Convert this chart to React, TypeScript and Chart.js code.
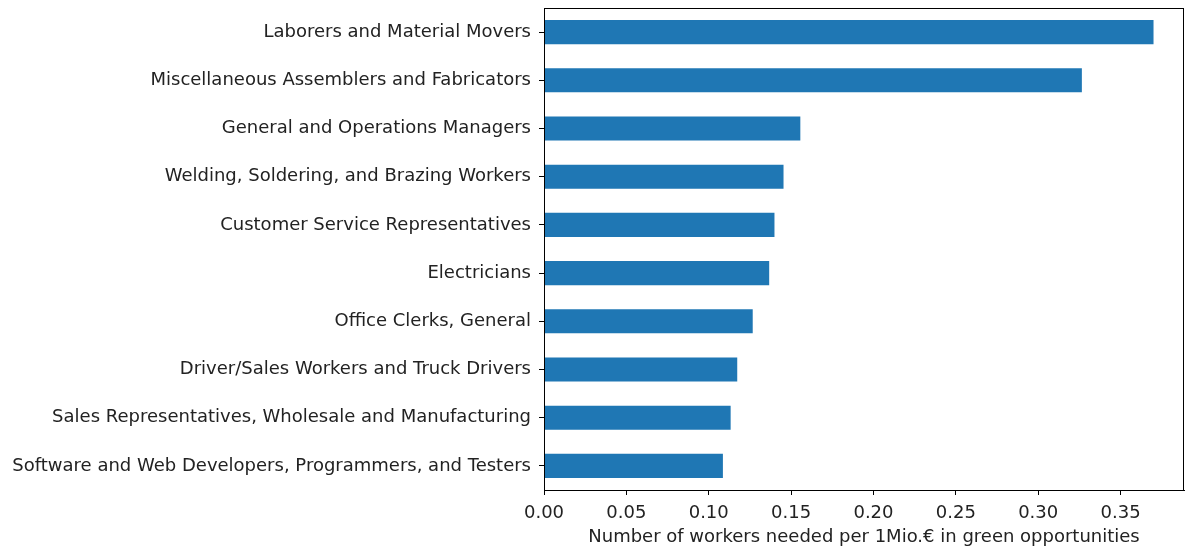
import React, { useEffect, useRef } from "react";
import { Chart, registerables } from "chart.js";

Chart.register(...registerables);

const categories = [
  "Laborers and Material Movers",
  "Miscellaneous Assemblers and Fabricators",
  "General and Operations Managers",
  "Welding, Soldering, and Brazing Workers",
  "Customer Service Representatives",
  "Electricians",
  "Office Clerks, General",
  "Driver/Sales Workers and Truck Drivers",
  "Sales Representatives, Wholesale and Manufacturing",
  "Software and Web Developers, Programmers, and Testers",
];

const workersNeeded = [0.37, 0.3265, 0.1556, 0.1454, 0.1399, 0.1367, 0.1267, 0.1173, 0.1133, 0.1086];

const xTicks = [0, 0.05, 0.1, 0.15, 0.2, 0.25, 0.3, 0.35];
const xTitle = "Number of workers needed per 1Mio.€ in green opportunities";

const FONT = "'DejaVu Sans', sans-serif";
const FS = 18;
const TEXT = "#222";

const framePlugin = {
  id: "frame",
  afterDraw(chart: any) {
    const { ctx, chartArea } = chart;
    ctx.save();
    ctx.strokeStyle = "#000";
    ctx.lineWidth = 1;
    ctx.strokeRect(
      Math.round(chartArea.left) + 0.5,
      Math.round(chartArea.top) + 0.5,
      Math.round(chartArea.right - chartArea.left) - 1,
      Math.round(chartArea.bottom - chartArea.top)
    );
    ctx.restore();
  },
};

export default function App() {
  const ref = useRef<HTMLCanvasElement | null>(null);
  useEffect(() => {
    if (!ref.current) return;
    const chart = new Chart(ref.current, {
      type: "bar",
      data: {
        labels: categories,
        datasets: [
          {
            data: workersNeeded,
            backgroundColor: "#1f77b4",
            borderWidth: 0,
            categoryPercentage: 1,
            barPercentage: 0.5,
          },
        ],
      },
      options: {
        indexAxis: "y",
        animation: false,
        responsive: false,
        maintainAspectRatio: false,
        layout: { padding: { left: 0, right: 1, top: 8, bottom: 0 } },
        plugins: { legend: { display: false }, tooltip: { enabled: false } },
        scales: {
          x: {
            type: "linear",
            min: 0,
            max: 0.3885,
            afterBuildTicks: (scale: any) => {
              scale.ticks = xTicks.map((v) => ({ value: v }));
            },
            afterFit: (scale: any) => {
              scale.height = 58;
              scale.paddingLeft = 0;
              scale.paddingRight = 0;
            },
            ticks: {
              color: TEXT,
              font: { family: FONT, size: FS },
              padding: 8,
              maxRotation: 0,
              autoSkip: false,
              callback: (v: any) => Number(v).toFixed(2),
            },
            grid: {
              display: true,
              drawOnChartArea: false,
              drawTicks: true,
              tickLength: 5,
              color: "#000",
            },
            border: { display: true, color: "#000", width: 1 },
            title: {
              display: true,
              text: xTitle,
              color: TEXT,
              font: { family: FONT, size: FS },
              padding: { top: 0, bottom: 0 },
            },
          },
          y: {
            type: "category",
            offset: true,
            afterFit: (scale: any) => {
              scale.width = 544;
              scale.paddingTop = 0;
              scale.paddingBottom = 0;
            },
            ticks: {
              color: TEXT,
              font: { family: FONT, size: FS },
              padding: 8,
              autoSkip: false,
            },
            grid: {
              display: true,
              drawOnChartArea: false,
              drawTicks: true,
              tickLength: 5,
              color: "#000",
              offset: false,
            },
            border: { display: true, color: "#000", width: 1 },
          },
        },
      },
      plugins: [framePlugin],
    });
    return () => chart.destroy();
  }, []);
  return (
    <div style={{ position: "fixed", left: 0, top: 0, width: 1185, height: 548, background: "#fff" }}>
      <canvas ref={ref} width={1185} height={548} style={{ display: "block" }} />
    </div>
  );
}
